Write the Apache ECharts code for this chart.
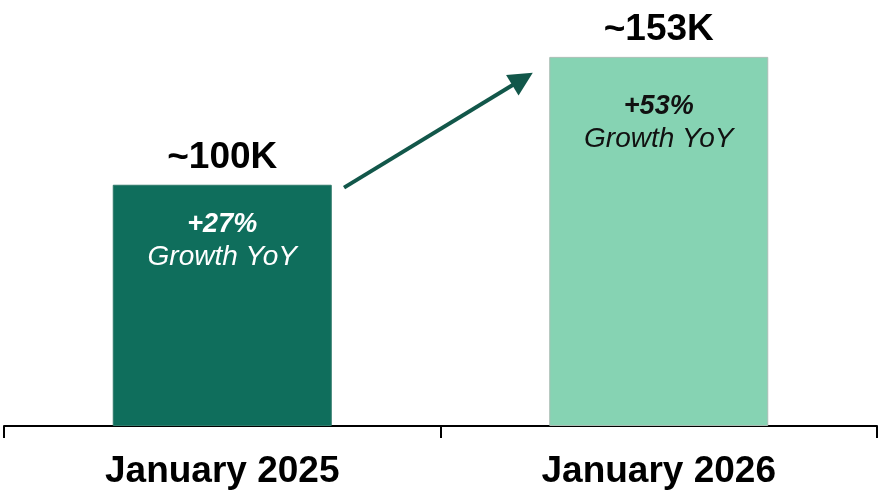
<!DOCTYPE html>
<html>
<head>
<meta charset="utf-8">
<style>
html,body{margin:0;padding:0;background:#fff;}
#chart{width:879px;height:492px;}
</style>
<script src="https://cdn.jsdelivr.net/npm/echarts@6/dist/echarts.min.js"></script>
</head>
<body>
<div id="chart"></div>
<script>
// ---- data ----
const categories = ['January 2025', 'January 2026'];
const values = [100, 153];
const valueLabels = ['~100K', '~153K'];
const growthLabels = ['+27%', '+53%'];
const growthText = ['Growth YoY', 'Growth YoY'];
// arrow annotation in [category-index, value] space
const arrowFrom = [0.279, 98.8];
const arrowTo = [0.688, 143.8];

const barColors = ['#0f6e5c', '#86d3b3'];
const textColors = ['#ffffff', '#111111'];
const insideDistance = [23, 33];
const FONT = '"Liberation Sans", Arial, Helvetica, sans-serif';

const chart = echarts.init(document.getElementById('chart'), null, {renderer: 'canvas'});

const barData = values.map((v, i) => ({
  value: v,
  itemStyle: {
    color: barColors[i],
    borderColor: i === 1 ? '#aabdb4' : '#2f7a6a',
    borderWidth: 1
  },
  label: {
    distance: insideDistance[i],
    rich: {
      a: {fontFamily: FONT, fontSize: 27, fontWeight: 'bold', fontStyle: 'italic', color: textColors[i], lineHeight: 33, align: 'center'},
      b: {fontFamily: FONT, fontSize: 28, fontStyle: 'italic', color: textColors[i], lineHeight: 33, align: 'center'}
    }
  }
}));

const option = {
  animation: false,
  backgroundColor: '#ffffff',
  grid: {left: 4, right: 2, top: 40, bottom: 65, containLabel: false},
  xAxis: [{
    type: 'category',
    data: categories,
    boundaryGap: true,
    axisLine: {show: true, lineStyle: {color: '#000', width: 2}},
    axisTick: {show: true, length: 12, lineStyle: {color: '#000', width: 2}},
    axisLabel: {
      margin: 26,
      fontFamily: FONT, fontSize: 37, fontWeight: 'bold', color: '#000', lineHeight: 40
    },
    splitLine: {show: false}
  }, {
    type: 'value',
    min: -0.5, max: 1.5,
    show: false
  }],
  yAxis: {
    type: 'value',
    min: 0, max: 160,
    show: false,
    splitLine: {show: false}
  },
  series: [{
    type: 'bar',
    data: barData,
    barWidth: 219,
    label: {
      show: true,
      position: 'insideTop',
      formatter: p => '{a|' + growthLabels[p.dataIndex] + '}\n{b|' + growthText[p.dataIndex] + '}'
    }
  }, {
    type: 'bar',
    data: values,
    barWidth: 219,
    barGap: '-100%',
    itemStyle: {color: 'rgba(0,0,0,0)'},
    silent: true,
    label: {
      show: true,
      position: 'top',
      distance: 7,
      formatter: p => valueLabels[p.dataIndex],
      fontFamily: FONT, fontSize: 37, fontWeight: 'bold', color: '#000', lineHeight: 40
    }
  }, {
    type: 'lines',
    coordinateSystem: 'cartesian2d',
    xAxisIndex: 1,
    yAxisIndex: 0,
    symbol: ['none', 'triangle'],
    symbolSize: [20, 24],
    lineStyle: {color: '#12574a', width: 4, opacity: 1},
    data: [{coords: [arrowFrom, arrowTo]}],
    z: 5
  }]
};
chart.setOption(option);
</script>
</body>
</html>
